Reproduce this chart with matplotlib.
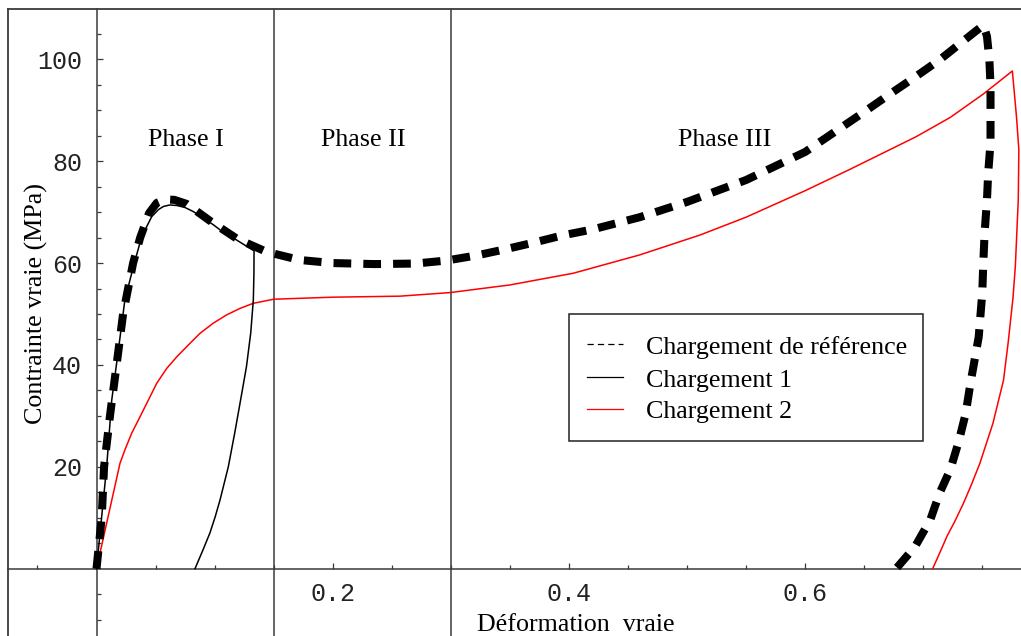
import matplotlib
matplotlib.use("Agg")
import matplotlib.pyplot as plt
from matplotlib.lines import Line2D
from matplotlib.patches import Rectangle
from matplotlib.ticker import FixedLocator

# ---------------- data ----------------
ref_strain = [0, 0.0044, 0.0064, 0.0114, 0.017, 0.0225, 0.031, 0.037, 0.0445, 0.051, 0.058,
              0.066, 0.0764, 0.096, 0.1187, 0.144, 0.172, 0.2, 0.235, 0.27, 0.2965, 0.322,
              0.346, 0.37, 0.394, 0.42, 0.46, 0.5, 0.55, 0.6, 0.649, 0.672, 0.693, 0.714,
              0.734, 0.746, 0.751, 0.754, 0.756, 0.757, 0.757, 0.757, 0.755, 0.754, 0.752,
              0.751, 0.750, 0.747, 0.740, 0.736, 0.730, 0.723, 0.714, 0.706, 0.693, 0.677]
ref_stress = [0, 10, 20, 30, 40, 50, 60, 65, 69.8, 71.8, 72.5,
              72.4, 71.6, 68.3, 64.8, 62.2, 60.6, 60.0, 59.8, 59.9, 60.5, 61.5,
              62.7, 64.0, 65.4, 66.6, 69.0, 72.0, 76.3, 81.8, 89.5, 93.2, 96.5, 99.9,
              103.6, 105.8, 106.7, 104.5, 100.0, 95.0, 90.0, 83.6, 77.6, 72.4, 65.9,
              60.6, 54.1, 45.5, 36.4, 30.5, 24.9, 19.5, 14.9, 9.6, 4.3, 0]

c1_strain = [0, 0.003, 0.0086, 0.0129, 0.0185, 0.024, 0.0312, 0.0383, 0.0467, 0.0525, 0.0566,
             0.062, 0.068, 0.075, 0.082, 0.09, 0.099, 0.107, 0.116, 0.125, 0.1334, 0.1333,
             0.1328, 0.1306, 0.127, 0.122, 0.117, 0.1116, 0.1046, 0.1005, 0.096, 0.09, 0.0834]
c1_stress = [0, 7, 20, 33.1, 42.9, 52.7, 59.3, 65.2, 69.1, 70.5, 71.1,
             71.4, 71.3, 70.9, 70.1, 68.9, 67.5, 66.1, 64.9, 63.6, 62.4, 58.0,
             52.8, 46.3, 39.7, 33.1, 26.6, 20.0, 13.5, 10.2, 7.0, 3.6, 0]

c2_strain = [0, 0.0199, 0.024, 0.0298, 0.0368, 0.0439, 0.051, 0.0594, 0.068, 0.0777, 0.0876,
             0.0989, 0.11, 0.1215, 0.1328, 0.15, 0.2, 0.257, 0.2993, 0.35, 0.4037, 0.46,
             0.511, 0.55, 0.6, 0.638, 0.666, 0.694, 0.723, 0.751, 0.7755, 0.779, 0.781,
             0.7805, 0.778, 0.776, 0.772, 0.768, 0.759, 0.748, 0.741, 0.734, 0.727, 0.72,
             0.714, 0.708]
c2_stress = [0, 20.7, 23.3, 26.6, 29.8, 33.1, 36.4, 39.3, 41.6, 43.9, 46.2,
             48.2, 49.8, 51.1, 52.1, 52.9, 53.3, 53.5, 54.2, 55.7, 58.0, 61.6,
             65.5, 69.0, 74.2, 78.4, 81.6, 84.8, 88.6, 93.2, 97.7, 88.7, 82.2,
             72.4, 59.3, 53.1, 44.5, 37.0, 28.5, 20.7, 16.6, 12.8, 9.4, 6.3,
             3.1, 0]

phase_bounds = [0.15, 0.3]
phase_labels = ["Phase I", "Phase II", "Phase III"]
phase_label_x = [0.0758, 0.2257, 0.532]
phase_label_y = 83.0

x_major = [0.2, 0.4, 0.6]
x_major_labels = ["0.2", "0.4", "0.6"]
y_major = [20, 40, 60, 80, 100]
y_major_labels = ["20", "40", "60", "80", "100"]

legend_labels = ["Chargement de référence", "Chargement 1", "Chargement 2"]
xlabel = "Déformation  vraie"
ylabel = "Contrainte vraie (MPa)"

# ---------------- figure ----------------
W, H = 1021, 636
fig = plt.figure(figsize=(W / 100, H / 100), dpi=100)
ax = fig.add_axes([8 / W, 0, 1 - 8 / W, 1 - 9 / H])
ax.set_xlim(-0.07494, 0.78281)
ax.set_ylim(-13.21, 109.87)

axc = "#3a3a3a"
serif = "Liberation Serif"
mono = "Liberation Mono"
fs = 18.7

for s in ["left", "bottom"]:
    ax.spines[s].set_position(("data", 0))
    ax.spines[s].set_color(axc)
    ax.spines[s].set_linewidth(1.1)
ax.spines["right"].set_visible(False)
ax.spines["top"].set_color(axc)
ax.spines["top"].set_linewidth(1.3)
ax.plot([0, 0], [0, 1], transform=ax.transAxes, color=axc, lw=1.3, clip_on=False)

for xb in phase_bounds:
    ax.axvline(xb, color=axc, lw=1.1, zorder=1)

ax.xaxis.set_major_locator(FixedLocator(x_major))
ax.set_xticklabels(x_major_labels)
ax.xaxis.set_minor_locator(FixedLocator([-0.05, 0.05, 0.1, 0.15, 0.25, 0.3, 0.35, 0.45, 0.5,
                                         0.55, 0.65, 0.7, 0.75]))
ax.yaxis.set_major_locator(FixedLocator(y_major))
ax.set_yticklabels(y_major_labels)
ax.yaxis.set_minor_locator(FixedLocator([-10, -5, 5, 10, 15, 25, 30, 35, 45, 50, 55, 65, 70,
                                         75, 85, 90, 95, 105]))
ax.tick_params(which="both", direction="in", color=axc, width=0.9)
ax.tick_params(which="major", length=4.6)
ax.tick_params(which="minor", length=3.0)
ax.tick_params(axis="y", which="major", pad=10.4)
ax.tick_params(axis="x", which="major", pad=9.5)
for lab in ax.get_xticklabels() + ax.get_yticklabels():
    lab.set_fontfamily(mono)
    lab.set_fontsize(18)
    lab.set_color("#222222")

# curves
ax.plot(c2_strain, c2_stress, color="#ff0000", lw=1.1, zorder=3, solid_joinstyle="round")
ax.plot(c1_strain, c1_stress, color="black", lw=1.1, zorder=3, solid_joinstyle="round")
ax.plot(ref_strain, ref_stress, color="black", lw=5.8, linestyle=(0, (2.2, 1.5)),
        dash_capstyle="butt", zorder=4)

for lab, xp in zip(phase_labels, phase_label_x):
    ax.text(xp, phase_label_y, lab, ha="center", va="baseline", fontsize=fs, family=serif)

# axis labels
fig.text(576 / W, 1 - 631 / H, xlabel, ha="center", va="baseline", fontsize=fs, family=serif)
fig.text(36 / W, 1 - 303.5 / H, ylabel, ha="center", va="center", rotation=90,
         fontsize=fs, family=serif)

# legend (manual box)
def P(x, y):
    return (x / W, 1 - y / H)

x0, y0 = P(569, 441)
x1, y1 = P(923, 314)
fig.add_artist(Rectangle((x0, y0), x1 - x0, y1 - y0, transform=fig.transFigure,
                         facecolor="white", edgecolor="#222222", lw=1.1, zorder=5))
rows_line_y = [344, 377, 409]
rows_base_y = [354, 387, 418]
styles = [dict(color="black", lw=0.9, linestyle=(0, (5.0, 3.3))),
          dict(color="black", lw=0.9),
          dict(color="#ff0000", lw=0.9)]
for ly, by, lab, st in zip(rows_line_y, rows_base_y, legend_labels, styles):
    xa, ya = P(587, ly)
    xb, _ = P(623, ly)
    fig.add_artist(Line2D([xa, xb], [ya, ya], transform=fig.transFigure, zorder=6, **st))
    tx, ty = P(646, by)
    fig.text(tx, ty, lab, ha="left", va="baseline", fontsize=fs, family=serif, zorder=6)

fig.savefig("out.png", dpi=100)
